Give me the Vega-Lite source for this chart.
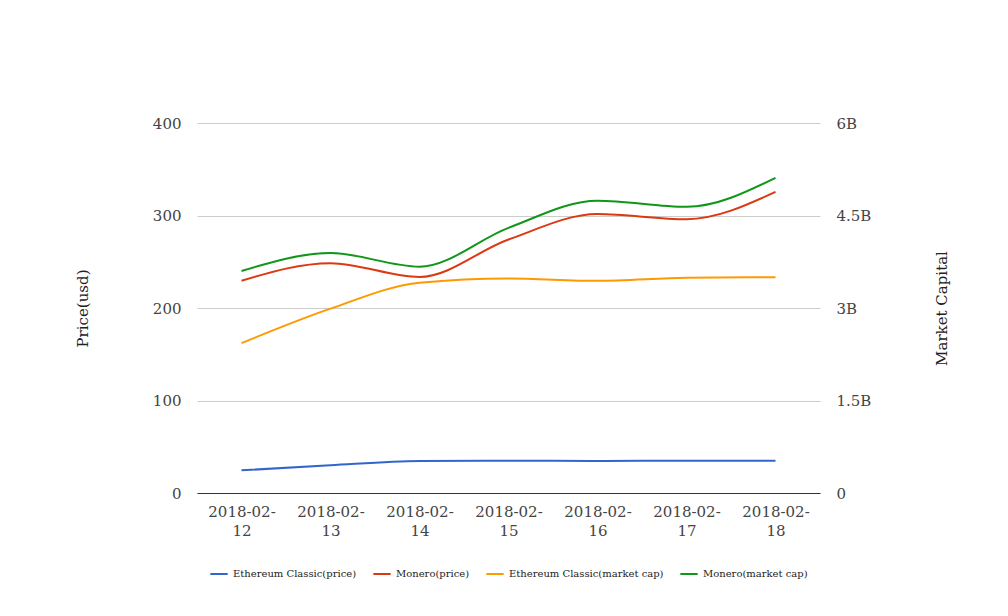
{
  "$schema": "https://vega.github.io/schema/vega-lite/v6.json",
  "width": 623,
  "height": 370,
  "autosize": {"type": "none"},
  "padding": {"left": 197, "top": 123, "right": 188, "bottom": 123},
  "background": "white",
  "config": {
    "font": "DejaVu Serif",
    "view": {"stroke": null},
    "axis": {"labelFont": "DejaVu Serif", "titleFont": "DejaVu Serif", "labelColor": "#444", "titleColor": "#222", "labelFontSize": 15, "titleFontSize": 15, "titleFontWeight": "normal"},
    "legend": {"labelFont": "DejaVu Serif", "labelFontSize": 10, "labelColor": "#222"}
  },
  "datasets": {
    "price": [
      {"date": "2018-02-12", "series": "Ethereum Classic(price)", "value": 24.5},
      {"date": "2018-02-13", "series": "Ethereum Classic(price)", "value": 30},
      {"date": "2018-02-14", "series": "Ethereum Classic(price)", "value": 34.5},
      {"date": "2018-02-15", "series": "Ethereum Classic(price)", "value": 35},
      {"date": "2018-02-16", "series": "Ethereum Classic(price)", "value": 34.5},
      {"date": "2018-02-17", "series": "Ethereum Classic(price)", "value": 35},
      {"date": "2018-02-18", "series": "Ethereum Classic(price)", "value": 35},
      {"date": "2018-02-12", "series": "Monero(price)", "value": 229.5},
      {"date": "2018-02-13", "series": "Monero(price)", "value": 248.5},
      {"date": "2018-02-14", "series": "Monero(price)", "value": 233.5},
      {"date": "2018-02-15", "series": "Monero(price)", "value": 274},
      {"date": "2018-02-16", "series": "Monero(price)", "value": 301.5},
      {"date": "2018-02-17", "series": "Monero(price)", "value": 296},
      {"date": "2018-02-18", "series": "Monero(price)", "value": 325.5}
    ],
    "mcap": [
      {"date": "2018-02-12", "series": "Ethereum Classic(market cap)", "value": 2430000000},
      {"date": "2018-02-13", "series": "Ethereum Classic(market cap)", "value": 2990000000},
      {"date": "2018-02-14", "series": "Ethereum Classic(market cap)", "value": 3410000000},
      {"date": "2018-02-15", "series": "Ethereum Classic(market cap)", "value": 3480000000},
      {"date": "2018-02-16", "series": "Ethereum Classic(market cap)", "value": 3440000000},
      {"date": "2018-02-17", "series": "Ethereum Classic(market cap)", "value": 3490000000},
      {"date": "2018-02-18", "series": "Ethereum Classic(market cap)", "value": 3500000000},
      {"date": "2018-02-12", "series": "Monero(market cap)", "value": 3600000000},
      {"date": "2018-02-13", "series": "Monero(market cap)", "value": 3890000000},
      {"date": "2018-02-14", "series": "Monero(market cap)", "value": 3670000000},
      {"date": "2018-02-15", "series": "Monero(market cap)", "value": 4300000000},
      {"date": "2018-02-16", "series": "Monero(market cap)", "value": 4740000000},
      {"date": "2018-02-17", "series": "Monero(market cap)", "value": 4640000000},
      {"date": "2018-02-18", "series": "Monero(market cap)", "value": 5110000000}
    ]
  },
  "encoding": {
    "x": {
      "field": "date", "type": "ordinal",
      "scale": {"type": "point", "padding": 0.5},
      "axis": {
        "title": null, "labelAngle": 0, "ticks": false, "domainColor": "#333", "domainWidth": 1,
        "labelPadding": 11, "labelLineHeight": 19,
        "labelExpr": "[slice(datum.label, 0, 8), slice(datum.label, 8)]"
      }
    },
    "color": {
      "field": "series", "type": "nominal",
      "scale": {
        "domain": ["Ethereum Classic(price)", "Monero(price)", "Ethereum Classic(market cap)", "Monero(market cap)"],
        "range": ["#3366cc", "#dc3912", "#ff9900", "#109618"]
      },
      "legend": {
        "title": null, "orient": "none", "direction": "horizontal", "legendX": 12, "legendY": 441,
        "symbolType": "stroke", "symbolSize": 300, "symbolStrokeWidth": 2, "columnPadding": 12, "labelOffset": 4
      }
    }
  },
  "layer": [
    {
      "data": {"name": "price"},
      "mark": {"type": "line", "interpolate": "monotone", "strokeWidth": 2},
      "encoding": {
        "y": {
          "field": "value", "type": "quantitative",
          "scale": {"domain": [0, 400], "nice": false},
          "axis": {
            "title": "Price(usd)", "values": [0, 100, 200, 300, 400], "ticks": false, "domain": false,
            "gridColor": "#cccccc", "labelPadding": 16,
            "titleX": -115, "titleY": 185, "titleAngle": -90, "titleAlign": "center", "titleBaseline": "middle"
          }
        }
      }
    },
    {
      "data": {"name": "mcap"},
      "mark": {"type": "line", "interpolate": "monotone", "strokeWidth": 2},
      "encoding": {
        "y": {
          "field": "value", "type": "quantitative",
          "scale": {"domain": [0, 6000000000], "nice": false},
          "axis": {
            "orient": "right", "title": "Market Capital",
            "values": [0, 1500000000, 3000000000, 4500000000, 6000000000],
            "ticks": false, "domain": false, "grid": false, "labelPadding": 16,
            "labelExpr": "datum.value == 0 ? '0' : format(datum.value / 1e9, '~g') + 'B'",
            "titleX": 121, "titleY": 185, "titleAngle": -90, "titleAlign": "center", "titleBaseline": "middle"
          }
        }
      }
    }
  ],
  "resolve": {"scale": {"y": "independent"}}
}
